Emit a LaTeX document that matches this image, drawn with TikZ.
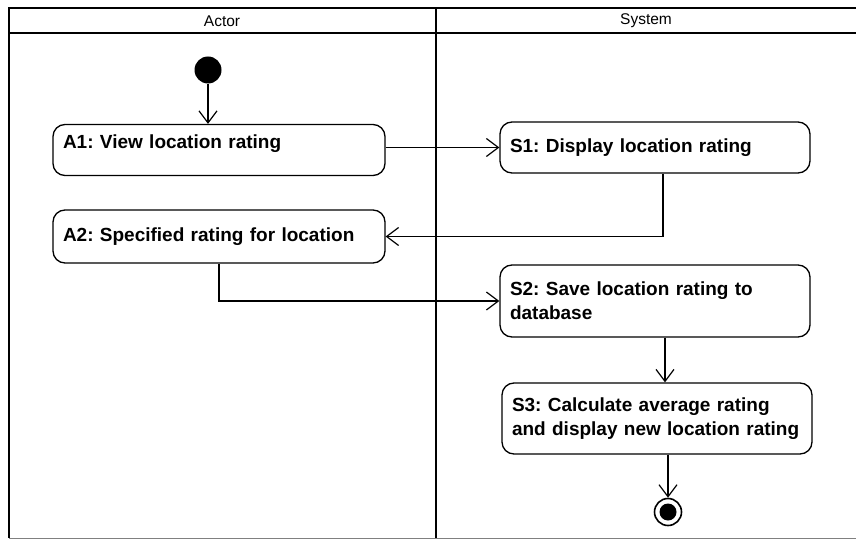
\documentclass[tikz,border=0pt]{standalone}
\usepackage{fontspec}
\setmainfont{Liberation Sans}
\frenchspacing
\usetikzlibrary{arrows.meta,positioning}

\begin{document}
\begin{tikzpicture}[
    x=1pt, y=-1pt,
    lane/.style={line width=1.8pt},
    activity/.style={rectangle,draw,rounded corners=12pt,line width=1.3pt,
      align=left,inner xsep=10pt,font=\bfseries\fontsize{19}{24}\selectfont},
    flow/.style={line width=1.2pt,-{Straight Barb[length=12pt,width=18pt]}},
    font=\fontsize{15.5}{18}\selectfont
    ]
    \useasboundingbox (0,0) rectangle (856,540);

    % swimlanes:
    \draw[lane] (856,8) -- (9,8) -- (9,538);
    \draw[lane] (9,33) -- (856,33);
    \draw[lane] (436,8) -- (436,538);
    \draw[line width=0.8pt,gray] (9,538) -- (856,538);
    \node(actor) at (222,21) {Actor};
    \node(system) at (646,21) {System};

    % start and end:
    \node(start) at (208,70) [circle,fill,inner sep=0pt,minimum size=27pt] {};
    \node(stop) at (668,512) [circle,draw,line width=1.6pt,inner sep=0pt,minimum size=27pt] {};
    \node(stopdot) at (stop) [circle,fill,inner sep=0pt,minimum size=17pt] {};

    % actor lane:
    \node(a1) at (219,150) [activity,minimum width=332pt,minimum height=51pt,text width=312pt]
      {A1: View location rating\\[-8pt]\mbox{}};
    \node(a2) at (219,236.5) [activity,minimum width=332pt,minimum height=53pt,text width=312pt]
      {A2: Specified rating for location};

    % system lane:
    \node(s1) at (655,147.5) [activity,minimum width=310pt,minimum height=51pt,text width=290pt]
      {S1: Display location rating};
    \node(s2) at (655,301) [activity,minimum width=310pt,minimum height=72pt,text width=290pt]
      {S2: Save location rating to\\database};
    \node(s3) at (657,418.5) [activity,minimum width=310pt,minimum height=71pt,text width=290pt]
      {S3: Calculate average rating\\and display new location rating};

    % transitions
    \draw[flow] (start) -- (start |- a1.north);
    \draw[flow] (a1.east |- s1.west) -- (s1.west);
    \draw[flow] ([xshift=8pt]s1.south) |- (a2.east);
    \draw[flow] (a2.south) |- (s2.west);
    \draw[flow] ([xshift=10pt]s2.south) -- ([xshift=8pt]s3.north);
    \draw[flow] ([xshift=11pt]s3.south) -- (stop);

  \end{tikzpicture}
\end{document}
